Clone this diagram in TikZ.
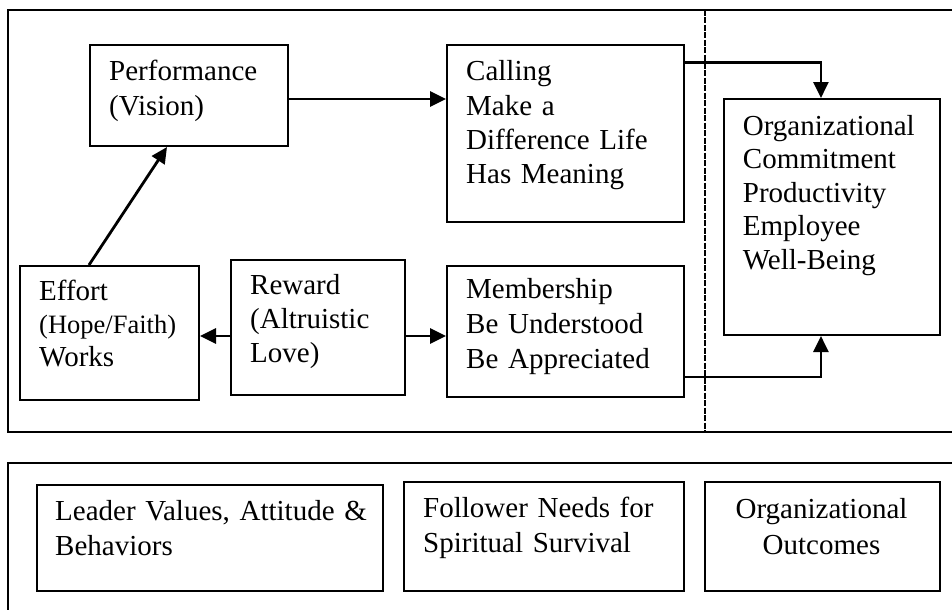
\documentclass[tikz,border=0pt]{standalone}
\usepackage{fontspec}
\setmainfont{Liberation Serif}
\usetikzlibrary{arrows.meta,calc}
\begin{document}
\begin{tikzpicture}[x=1pt,y=-1pt,
  box/.style={draw,line width=2pt,rectangle,inner sep=0pt,anchor=north west},
  frame/.style={line width=2.4pt},
  txt/.style={font=\fontsize{29}{34}\selectfont,anchor=base west,inner sep=0pt,text width=400pt,align=left},
  arr/.style={line width=2.8pt,-{Triangle[length=16pt,width=15pt]}}]
\useasboundingbox (0,0) rectangle (952,610);
% frames
\coordinate (tr) at (952,10);
\coordinate (tl) at (8,10);
\coordinate (bl) at (8,432);
\coordinate (br) at (952,432);
\draw[frame] (tr) -- (tl) -- (bl) -- (br);
\coordinate (dt) at (704.5,10);
\coordinate (db) at (704.5,432);
\draw[line width=2pt,dash pattern=on 6pt off 1.5pt] (dt) -- (db);
\coordinate (ftr) at (952,463);
\coordinate (ftl) at (8,463);
\coordinate (fbl) at (8,610);
\draw[frame] (ftr) -- (ftl) -- (fbl);
% boxes
\node[box,minimum width=198pt,minimum height=101pt] (perf) at (89,44) {};
\node[box,minimum width=237pt,minimum height=177pt] (call) at (446,44) {};
\node[box,minimum width=216.5pt,minimum height=236pt] (org) at (722.7,98) {};
\node[box,minimum width=179pt,minimum height=134pt] (eff) at (19,265) {};
\node[box,minimum width=174pt,minimum height=135pt] (rew) at (230,259) {};
\node[box,minimum width=237pt,minimum height=131pt] (mem) at (446,265) {};
\node[box,minimum width=346pt,minimum height=106pt] (lead) at (36,484) {};
\node[box,minimum width=280pt,minimum height=109pt] (foll) at (403,481) {};
\node[box,minimum width=235pt,minimum height=109pt] (outc) at (704,481) {};
% texts
\node[txt] (tperf) at (109,81) {Performance\\(Vision)};
\node[txt] (tcall) at (466,81) {Calling\\Make a\\Difference Life\\Has Meaning};
\node[txt,font=\fontsize{29}{33.5}\selectfont] (torg) at (742.7,135) {Organizational\\Commitment\\Productivity\\Employee\\Well-Being};
\node[txt,font=\fontsize{29}{33}\selectfont] (teff) at (39,300) {Effort\\{\fontsize{26.5}{33}\selectfont(Hope/Faith)}\\Works};
\node[txt] (trew) at (250,294) {Reward\\(Altruistic\\Love)};
\node[txt,font=\fontsize{29}{35}\selectfont] (tmem) at (466,298) {Membership\\Be Understood\\Be Appreciated};
\node[txt,font=\fontsize{29}{35}\selectfont] (tlead) at (55,520) {Leader Values, Attitude \&\\Behaviors};
\node[txt,font=\fontsize{29}{35}\selectfont] (tfoll) at (423,517) {Follower Needs for\\Spiritual Survival};
\node[txt,font=\fontsize{29}{36}\selectfont,anchor=base,align=center,text width=235pt] (toutc) at (821.5,518) {Organizational\\Outcomes};
% connector end points
\coordinate (a1) at ($(eff.north west)+(70,0)$);
\coordinate (a2) at ($(perf.south west)+(78,0)$);
\coordinate (b1) at ($(perf.east)+(0,3.5)$);
\coordinate (c1) at ($(rew.west)+(0,8.5)$);
\coordinate (d1) at ($(rew.east)+(0,8.5)$);
\coordinate (e1) at ($(call.north east)+(0,18.7)$);
\coordinate (e2) at ($(org.north)+(-11,0)$);
\coordinate (f1) at ($(mem.south east)+(0,-21)$);
\coordinate (f2) at ($(org.south)+(-11,0)$);
% connectors
\draw[arr] (a1) -- (a2);
\draw[arr] (b1) -- (b1 -| call.west);
\draw[arr] (c1) -- (c1 -| eff.east);
\draw[arr] (d1) -- (d1 -| mem.west);
\draw[arr,line width=2.6pt] (e1) -| (e2);
\draw[arr,line width=2.6pt] (f1) -| (f2);
\end{tikzpicture}
\end{document}
